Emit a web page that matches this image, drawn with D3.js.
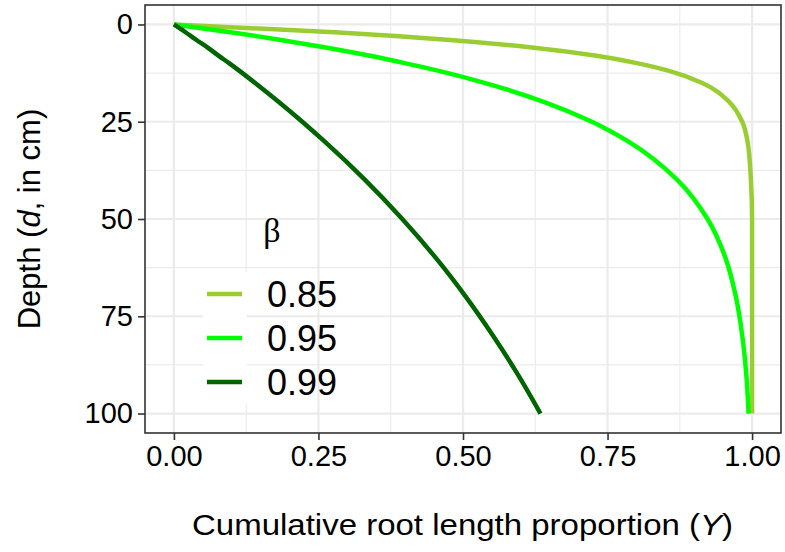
<!DOCTYPE html>
<html>
<head>
<meta charset="utf-8">
<script src="https://cdn.jsdelivr.net/npm/d3@7"></script>
<style>
  body { margin: 0; background: #fff; }
  text { font-family: "Liberation Sans", Arial, sans-serif; }
</style>
</head>
<body>
<div id="chart"></div>
<script>
// values
var depth = [0, 2, 4, 6, 8, 10, 12, 15, 20, 25, 30, 40, 50, 60, 70, 80, 90, 100];
var y085 = [0, 0.278, 0.478, 0.623, 0.728, 0.803, 0.858, 0.913, 0.961, 0.983, 0.992, 0.998, 1.0, 1.0, 1.0, 1.0, 1.0, 1.0];
var y095 = [0, 0.098, 0.185, 0.265, 0.337, 0.401, 0.460, 0.537, 0.642, 0.723, 0.785, 0.871, 0.923, 0.954, 0.972, 0.983, 0.990, 0.994];
var y099 = [0, 0.020, 0.039, 0.059, 0.077, 0.096, 0.114, 0.140, 0.182, 0.222, 0.260, 0.331, 0.395, 0.453, 0.505, 0.552, 0.595, 0.634];
var betas = ["0.85", "0.95", "0.99"];
var colors = ["#9ACD32", "#00FF00", "#006400"];
var xTicks = [0, 0.25, 0.5, 0.75, 1];
var xMinor = [0.125, 0.375, 0.625, 0.875];
var yTicks = [0, 25, 50, 75, 100];
var yMinor = [12.5, 37.5, 62.5, 87.5];

var width = 785, height = 552;
var panel = {left: 145, right: 781, top: 5, bottom: 433};

var svg = d3.select("#chart").append("svg")
    .attr("width", width)
    .attr("height", height);

// ggplot style 5% expansion
var x = d3.scaleLinear().domain([-0.05, 1.05]).range([panel.left, panel.right]);
var y = d3.scaleLinear().domain([-5, 105]).range([panel.top, panel.bottom]);

// grid
var grid = svg.append("g").attr("class", "grid");
grid.selectAll(".xminor").data(xMinor).enter().append("line")
    .attr("x1", d => x(d)).attr("x2", d => x(d))
    .attr("y1", panel.top).attr("y2", panel.bottom)
    .attr("stroke", "#EBEBEB").attr("stroke-width", 1.1);
grid.selectAll(".yminor").data(yMinor).enter().append("line")
    .attr("y1", d => y(d)).attr("y2", d => y(d))
    .attr("x1", panel.left).attr("x2", panel.right)
    .attr("stroke", "#EBEBEB").attr("stroke-width", 1.1);
grid.selectAll(".xmajor").data(xTicks).enter().append("line")
    .attr("x1", d => x(d)).attr("x2", d => x(d))
    .attr("y1", panel.top).attr("y2", panel.bottom)
    .attr("stroke", "#EBEBEB").attr("stroke-width", 2.2);
grid.selectAll(".ymajor").data(yTicks).enter().append("line")
    .attr("y1", d => y(d)).attr("y2", d => y(d))
    .attr("x1", panel.left).attr("x2", panel.right)
    .attr("stroke", "#EBEBEB").attr("stroke-width", 2.2);

// curves
var series = [y085, y095, y099];
var line = d3.line()
    .x(d => x(d[1]))
    .y(d => y(d[0]))
    .curve(d3.curveMonotoneY);

svg.append("g").attr("class", "curves")
    .selectAll("path").data(series).enter().append("path")
    .attr("d", s => line(depth.map((d, i) => [d, s[i]])))
    .attr("fill", "none")
    .attr("stroke", (s, i) => colors[i])
    .attr("stroke-width", 4.5);

// panel border
svg.append("rect")
    .attr("x", panel.left).attr("y", panel.top)
    .attr("width", panel.right - panel.left)
    .attr("height", panel.bottom - panel.top)
    .attr("fill", "none").attr("stroke", "#333").attr("stroke-width", 1.6);

// axes
var xAxis = svg.append("g")
    .attr("transform", "translate(0," + panel.bottom + ")")
    .call(d3.axisBottom(x).tickValues(xTicks).tickFormat(d3.format(".2f")).tickSizeInner(7).tickSizeOuter(0).tickPadding(5));
var yAxis = svg.append("g")
    .attr("transform", "translate(" + panel.left + ",0)")
    .call(d3.axisLeft(y).tickValues(yTicks).tickSizeInner(7).tickSizeOuter(0).tickPadding(5));

[xAxis, yAxis].forEach(function(a) {
    a.select(".domain").remove();
    a.selectAll(".tick line").attr("stroke", "#333").attr("stroke-width", 1.6);
    a.selectAll(".tick text").attr("fill", "#000")
        .style("font-family", "'Liberation Sans', Arial, sans-serif")
        .style("font-size", "29px");
});

// axis titles
svg.append("text")
    .attr("x", 192)
    .attr("y", 535)
    .attr("textLength", 541)
    .attr("lengthAdjust", "spacingAndGlyphs")
    .style("font-size", "30px")
    .html('Cumulative root length proportion (<tspan font-style="italic">Y</tspan>)');

svg.append("text")
    .attr("transform", "translate(40," + ((panel.top + panel.bottom) / 2) + ") rotate(-90)")
    .attr("text-anchor", "middle")
    .style("font-size", "31px")
    .html('Depth (<tspan font-style="italic">d</tspan>, in cm)');

// legend
var legend = svg.append("g").attr("class", "legend");
legend.append("text")
    .attr("x", 272).attr("y", 242)
    .attr("text-anchor", "middle")
    .style("font-size", "34px")
    .style("font-family", "'Liberation Serif', serif")
    .text("β");

var keys = legend.selectAll(".key").data(betas).enter().append("g")
    .attr("transform", (d, i) => "translate(203," + (272 + i * 44) + ")");
keys.append("rect")
    .attr("width", 44).attr("height", 44).attr("fill", "#fff");
keys.append("line")
    .attr("x1", 4).attr("x2", 39).attr("y1", 22).attr("y2", 22)
    .attr("stroke", (d, i) => colors[i]).attr("stroke-width", 4.5);
keys.append("text")
    .attr("x", 64).attr("y", 35)
    .style("font-size", "36px")
    .text(d => d);
</script>
</body>
</html>
